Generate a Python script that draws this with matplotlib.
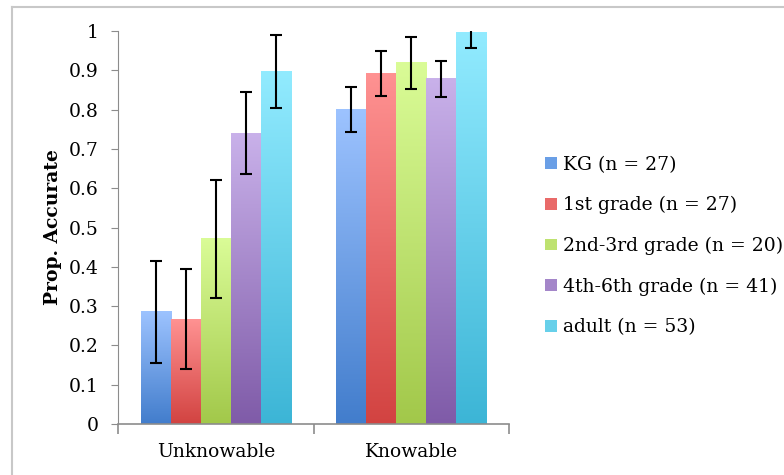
import numpy as np
import matplotlib
matplotlib.use("Agg")
import matplotlib.pyplot as plt
from matplotlib.colors import LinearSegmentedColormap
from matplotlib.patches import Patch
from matplotlib.lines import Line2D

conditions = ['Unknowable', 'Knowable']
groups = ['KG (n = 27)', '1st grade (n = 27)', '2nd-3rd grade (n = 20)',
          '4th-6th grade (n = 41)', 'adult (n = 53)']

# proportion accurate per group, one list per condition
unknowable = [0.285, 0.267, 0.471, 0.740, 0.897]
knowable = [0.800, 0.891, 0.919, 0.878, 0.996]
# error bar half-widths
unknowable_err = [0.130, 0.128, 0.150, 0.105, 0.093]
knowable_err = [0.057, 0.057, 0.066, 0.046, 0.040]

top_colors = ['#9dc3ff', '#ff9292', '#dafc97', '#c9b1ea', '#92ebff']
bottom_colors = ['#427dcc', '#d24341', '#a2c84a', '#7f5ba8', '#3cb5d6']
mid_colors = ['#6a9fe6', '#e96a69', '#bee270', '#a486c9', '#67d0ea']

plt.rcParams['font.family'] = ['DejaVu Serif']
fs = 13.5

fig = plt.figure(figsize=(7.84, 4.75), dpi=100)
ax = fig.add_axes([118 / 784, 51 / 475, 391 / 784, 393 / 475])

values = np.array([unknowable, knowable])
errors = np.array([unknowable_err, knowable_err])
n = len(groups)
width = 0.1535
x = np.arange(len(conditions))

gradient = np.linspace(0, 1, 256).reshape(-1, 1)
for i in range(n):
	pos = x + (i - (n - 1) / 2) * width
	bars = ax.bar(pos, values[:, i], width, color='none', edgecolor='none', zorder=2)
	cmap = LinearSegmentedColormap.from_list('g%d' % i, [bottom_colors[i], top_colors[i]])
	for b in bars :
		x0 = b.get_x()
		h = b.get_height()
		ax.imshow(gradient, cmap=cmap, origin='lower', aspect='auto',
		          extent=[x0, x0 + width, 0, h], zorder=2, interpolation='bilinear')
	ax.errorbar(pos, values[:, i], yerr=errors[:, i], fmt='none', ecolor='black',
	            elinewidth=1.5, capsize=4, capthick=1.5, zorder=3)

ax.set_xlim(-0.5, 1.5)
ax.set_ylim(0, 1)

ax.spines['top'].set_visible(False)
ax.spines['right'].set_visible(False)
ax.spines['left'].set_color('#8c8c8c')
ax.spines['bottom'].set_color('#8c8c8c')
ax.spines['bottom'].set_linewidth(1.2)

yt = np.round(np.arange(0, 1.01, 0.1), 1)
ax.set_yticks(yt)
ax.set_yticklabels(['%g' % v for v in yt], fontsize=fs)
ax.tick_params(axis='y', length=5, color='#8c8c8c', pad=9)

ax.set_xticks([-0.5, 0.5, 1.5])
ax.set_xticklabels([])
ax.tick_params(axis='x', which='major', length=7, color='#8c8c8c', width=1.2)
ax.set_xticks(x, minor=True)
ax.set_xticklabels(conditions, minor=True, fontsize=fs)
ax.tick_params(axis='x', which='minor', length=0, pad=14)

ax.set_ylabel('Prop. Accurate', fontsize=fs, fontweight='bold', labelpad=5)

handles = [Patch(facecolor=mid_colors[i], edgecolor='none') for i in range(n)]
fig.legend(handles, groups, loc='center left', bbox_to_anchor=(536 / 784, 1 - 246 / 475),
           frameon=False, fontsize=fs, handlelength=0.6, handleheight=0.6,
           handletextpad=0.35, labelspacing=1.2, borderpad=0)

# frame around chart area (only left and top edges visible)
fig.add_artist(Line2D([12 / 784, 12 / 784], [0, 1 - 7 / 475], color='#c8c8c8', lw=1.5))
fig.add_artist(Line2D([12 / 784, 1], [1 - 7 / 475, 1 - 7 / 475], color='#c8c8c8', lw=1.5))

fig.savefig('out.png', dpi=100)
